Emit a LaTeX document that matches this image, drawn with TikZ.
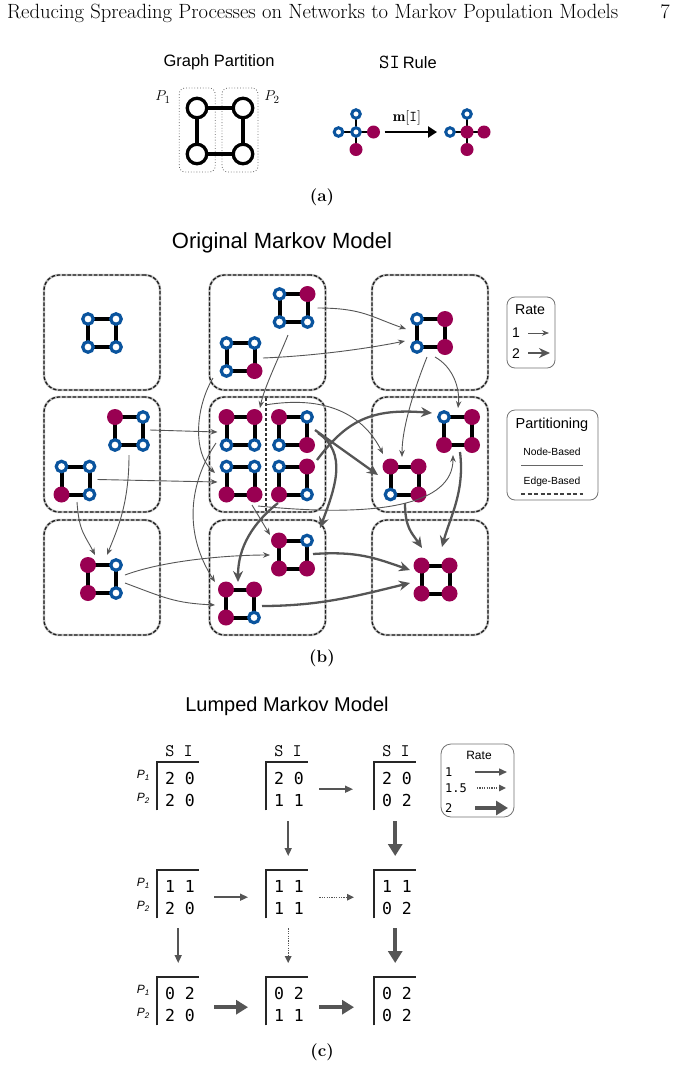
\documentclass[tikz,border=0pt]{standalone}
\usepackage{fontspec}
\newfontfamily\sfont{Liberation Sans}
\newfontfamily\dmono{DejaVu Sans Mono}
\usetikzlibrary{arrows.meta,calc}
\definecolor{sblue}{RGB}{10,84,158}
\definecolor{imag}{RGB}{153,0,82}
\definecolor{arrg}{RGB}{85,85,85}
\pgfdeclarelayer{boxes}
\pgfdeclarelayer{edges}
\pgfsetlayers{boxes,edges,main}
% graph of four nodes: name, x, y, TL, TR, BL, BR
\newcommand\gsq[7]{%
  \node[grp] (#1) at (#2,#3) {};
  \node[#4] (#1tl) at ($(#1)+(-14,-14)$) {};
  \node[#5] (#1tr) at ($(#1)+(14,-14)$) {};
  \node[#6] (#1bl) at ($(#1)+(-14,14)$) {};
  \node[#7] (#1br) at ($(#1)+(14,14)$) {};
  \begin{pgfonlayer}{edges}
    \draw[gedge] (#1tl.center) -- (#1tr.center) -- (#1br.center) -- (#1bl.center) -- cycle;
  \end{pgfonlayer}}
% lumped matrix: name, x, y, row1, row2
\newcommand\lmat[5]{%
  \node[mat] (#1) at (#2,#3) {};
  \draw[mline] (#1.south west) |- (#1.north east);
  \node[dig] (#1a) at ($(#1.north west)+(23,16)$) {#4};
  \node[dig] (#1b) at ($(#1.north west)+(23,38)$) {#5};}
\begin{document}
\begin{tikzpicture}[x=1pt,y=-1pt,
  sus/.style={circle,draw=sblue,fill=white,line width=3.2pt,minimum size=10.5pt,inner sep=0pt},
  inf/.style={circle,fill=imag,minimum size=16pt,inner sep=0pt},
  grp/.style={rectangle,minimum width=48pt,minimum height=48pt,inner sep=0pt},
  gedge/.style={line width=4pt,black},
  mbox/.style={rectangle,rounded corners=15pt,minimum width=116pt,minimum height=115pt,inner sep=0pt,
    draw=black!88,line width=1.3pt,dash pattern=on 3.5pt off 1.8pt,preaction={draw=black!25,line width=2.4pt,solid}},
  tarr/.style={draw=arrg,line width=0.9pt,-{Stealth[length=7pt,width=5.5pt]}},
  karr/.style={draw=arrg,line width=2.3pt,-{Stealth[length=11pt,width=10pt]}},
  lbox/.style={rectangle,rounded corners=8pt,draw=black!55,line width=0.8pt,inner sep=0pt},
  sf/.style={font=\sfont\fontsize{#1}{#1}\selectfont},
  mat/.style={rectangle,minimum width=42pt,minimum height=48pt,inner sep=0pt,anchor=north west},
  mline/.style={draw=black!85,line width=1.3pt},
  dig/.style={font=\dmono\fontsize{16.5}{18}\selectfont,inner sep=0pt},
  lth/.style={draw=arrg,line width=1.5pt,-{Triangle[length=8pt,width=7pt]}},
  ldot/.style={draw=arrg,line width=1.4pt,dash pattern=on 1.2pt off 1.2pt,-{Triangle[length=7pt,width=6.5pt]}},
  lthk/.style={draw=arrg,line width=4.5pt,-{Triangle[length=12pt,width=14pt]}},
  gp/.style={circle,draw=black,fill=white,line width=3.3pt,minimum size=19.5pt,inner sep=0pt},
  ssus/.style={circle,draw=sblue,fill=white,line width=3pt,minimum size=8.5pt,inner sep=0pt},
  sinf/.style={circle,fill=imag,minimum size=13pt,inner sep=0pt},
  pbox/.style={rectangle,rounded corners=6pt,draw=black!60,dotted,line width=0.8pt,minimum width=36pt,minimum height=84pt,inner sep=0pt},
  siarr/.style={draw=black,line width=2.8pt,-{Triangle[length=9pt,width=11pt]}},
  capt/.style={font=\bfseries\fontsize{17}{20}\selectfont}
]
\useasboundingbox (0,0) rectangle (675,1088);
\begin{pgfonlayer}{boxes}
\fill[white] (0,0) rectangle (675,1088);
\end{pgfonlayer}

% header
\node[anchor=base west,font=\fontsize{20.6}{24}\selectfont,inner sep=0pt] (hdr) at (7,18) {Reducing Spreading Processes on Networks to Markov Population Models};
\node[anchor=base east,font=\fontsize{20.6}{24}\selectfont,inner sep=0pt] (pgno) at (670,18) {7};

% ---------- (a) ----------
\node[sf=16.5] (tgp) at (219,62) {Graph Partition};
\node[sf=16.5] (tsi) at (408,62) {{\ttfamily\fontsize{20}{22}\selectfont SI}\hspace{3pt}Rule};
\begin{pgfonlayer}{boxes}
  \node[pbox] (pb1) at (197.2,130) {};
  \node[pbox] (pb2) at (240,130) {};
\end{pgfonlayer}
\node[gp] (a1) at (197,108) {};
\node[gp] (a2) at (243,108) {};
\node[gp] (a3) at (197,154) {};
\node[gp] (a4) at (243,154) {};
\begin{pgfonlayer}{edges}
  \draw[line width=4pt] (a1.center) -- (a2.center) -- (a4.center) -- (a3.center) -- cycle;
\end{pgfonlayer}
\node[font=\fontsize{15}{18}\selectfont] (lp1) at (163,97) {$P_1$};
\node[font=\fontsize{15}{18}\selectfont] (lp2) at (272,97) {$P_2$};

% SI rule stars
\node[ssus] (slc) at (356,132) {};
\node[ssus] (slt) at (356,114) {};
\node[ssus] (sll) at (338.5,132) {};
\node[sinf] (slr) at (373.5,132) {};
\node[sinf] (slb) at (356,149.5) {};
\node[sinf] (src) at (467,132) {};
\node[ssus] (srt) at (467,114) {};
\node[ssus] (srl) at (450,132) {};
\node[sinf] (srr) at (484,132) {};
\node[sinf] (srb) at (467,149.5) {};
\begin{pgfonlayer}{edges}
  \draw[line width=2pt] (slt.center) -- (slb.center) (sll.center) -- (slr.center);
  \draw[line width=2pt] (srt.center) -- (srb.center) (srl.center) -- (srr.center);
\end{pgfonlayer}
\draw[siarr] ($(slr)+(11,0)$) -- ($(srl)+(-13,0)$);
\node[font=\fontsize{15}{18}\selectfont] (mlab) at (407,118) {$\mathbf{m}[\mathtt{I}]$};
\node[capt] (capa) at (322,197) {(a)};

% ---------- (b) ----------
\node[sf=22] (tb) at (282,243) {Original Markov Model};
\begin{pgfonlayer}{boxes}
  \node[mbox] (b11) at (102,332.5) {};
  \node[mbox] (b12) at (267.5,332.5) {};
  \node[mbox] (b13) at (430,332.5) {};
  \node[mbox] (b21) at (102,454.5) {};
  \node[mbox] (b22) at (267.5,454.5) {};
  \node[mbox] (b23) at (430,454.5) {};
  \node[mbox] (b31) at (102,577.5) {};
  \node[mbox] (b32) at (267.5,577.5) {};
  \node[mbox] (b33) at (430,577.5) {};
  \draw[black!80,line width=1.3pt,dash pattern=on 3pt off 2pt] ($(b22.north)+(-1.5,2)$) -- ($(b22.south)+(-1.5,-2)$);
\end{pgfonlayer}

\gsq{gz}{102}{333}{sus}{sus}{sus}{sus}
\gsq{gA}{293.5}{308}{sus}{inf}{sus}{sus}
\gsq{gB}{240.5}{357}{sus}{sus}{sus}{inf}
\gsq{gC}{431}{333}{sus}{inf}{sus}{inf}
\gsq{gD}{129}{431}{inf}{sus}{sus}{sus}
\gsq{gE}{75.5}{480.5}{sus}{sus}{inf}{sus}
\gsq{gF}{240.5}{431}{inf}{inf}{sus}{sus}
\gsq{gG}{240.5}{480.5}{sus}{sus}{inf}{inf}
\gsq{gH}{293}{431}{inf}{sus}{sus}{inf}
\gsq{gI}{293}{480.5}{sus}{inf}{inf}{sus}
\gsq{gJ}{458}{431}{sus}{inf}{inf}{inf}
\gsq{gK}{404.5}{480.5}{inf}{inf}{sus}{inf}
\gsq{gL}{102}{579}{inf}{sus}{inf}{sus}
\gsq{gM}{293}{554.5}{inf}{sus}{inf}{inf}
\gsq{gN}{240}{603.5}{inf}{inf}{inf}{sus}
\gsq{gO}{435.5}{579.5}{inf}{inf}{inf}{inf}

% transitions
\draw[tarr] ($(gA)+(24,0)$) .. controls +(45,0) and +(-35,-12) .. ($(gC)+(-25,-4)$);
\draw[tarr] ($(gB)+(22.5,1)$) .. controls +(50,-2) and +(-40,8) .. ($(gC)+(-26,8)$);
\draw[tarr] ($(gA)+(-5.5,27)$) .. controls +(-8,20) and +(4,-20) .. ($(gF)+(19.5,-23)$);
\draw[tarr] ($(gB)+(-27.5,21)$) .. controls +(-18,30) and +(-22,-20) .. ($(gG)+(-25.5,-7.5)$);
\draw[tarr] ($(gD)+(21,-1)$) -- ($(gF)+(-23,1)$);
\draw[tarr] ($(gE)+(22,-1)$) -- ($(gG)+(-23,1.5)$);
\draw[tarr] ($(gD)+(0,24)$) .. controls +(0,50) and +(10,-25) .. ($(gL)+(5,-24)$);
\draw[tarr] ($(gE)+(1.5,21.5)$) .. controls +(2,30) and +(-10,-20) .. ($(gL)+(-7,-24)$);
\draw[tarr] ($(gF)+(-24.5,12)$) .. controls +(-30,45) and +(-29,-45) .. ($(gN)+(-25,-21.5)$);
\draw[tarr] ($(gF)+(24.5,-26)$) .. controls +(60,-10) and +(-20,-40) .. ($(gK)+(-21.5,-26.5)$);
\draw[tarr] ($(gG)+(11.5,24.5)$) -- ($(gM)+(-23,-19.5)$);
\draw[tarr] ($(gG)+(17.5,25.5)$) .. controls +(120,12) and +(0,50) .. ($(gJ)+(-5,24)$);
\draw[karr] ($(gH)+(22,-1)$) -- ($(gK)+(-26.5,-5.5)$);
\draw[karr] ($(gH)+(25,2)$) .. controls +(30,20) and +(15,-40) .. ($(gM)+(27,-26.5)$);
\draw[karr] ($(gI)+(24,-20.5)$) .. controls +(30,-40) and +(-60,-5) .. ($(gJ)+(-26,-18)$);
\draw[karr] ($(gI)+(-15,22.5)$) .. controls +(-25,20) and +(0,-35) .. ($(gN)+(-2,-21.5)$);
\draw[tarr] ($(gC)+(-4,24)$) .. controls +(-12,30) and +(0,-30) .. ($(gK)+(-2.5,-23.5)$);
\draw[tarr] ($(gC)+(4,24)$) .. controls +(18,10) and +(2,-20) .. ($(gJ)+(0,-23)$);
\draw[tarr] ($(gL)+(23,-4)$) .. controls +(40,-15) and +(-40,0) .. ($(gM)+(-23,0.5)$);
\draw[tarr] ($(gL)+(23,4)$) .. controls +(40,15) and +(-40,-2) .. ($(gN)+(-25,1.5)$);
\draw[karr] ($(gM)+(20,-0.5)$) .. controls +(45,-3) and +(-35,-12) .. ($(gO)+(-25.5,-9.5)$);
\draw[karr] ($(gN)+(22,2.5)$) .. controls +(60,0) and +(-50,12) .. ($(gO)+(-25.5,3.5)$);
\draw[karr] ($(gJ)+(2,21)$) .. controls +(5,40) and +(8,-30) .. ($(gO)+(6.5,-32.5)$);
\draw[karr] ($(gK)+(0.5,22.5)$) .. controls +(0,25) and +(-10,-15) .. ($(gO)+(-13.5,-31.5)$);

% legends (b)
\node[lbox,minimum width=48pt,minimum height=71pt] (rlegb) at (531,332.5) {};
\node[sf=14.2] (rlbt) at (530,310) {Rate};
\node[sf=14] (rlb1) at (516,333) {1};
\node[sf=14] (rlb2) at (516,354) {2};
\coordinate (rb1s) at (528,333); \coordinate (rb1e) at (549,333);
\coordinate (rb2s) at (528,353); \coordinate (rb2e) at (550,353);
\draw[tarr] (rb1s) -- (rb1e);
\draw[karr] (rb2s) -- (rb2e);

\node[lbox,minimum width=91pt,minimum height=90pt] (plegb) at (552.5,455) {};
\node[sf=14.5] (plt) at (552,425) {Partitioning};
\node[sf=10.3] (pln) at (552,452) {Node-Based};
\node[sf=10.3] (ple) at (552,482) {Edge-Based};
\coordinate (pn1) at (521,465); \coordinate (pn2) at (583,465);
\coordinate (pe1) at (521,494); \coordinate (pe2) at (583,494);
\draw[black!60,line width=1pt] (pn1) -- (pn2);
\draw[black!75,line width=2pt,dash pattern=on 4pt off 2.5pt] (pe1) -- (pe2);
\node[capt] (capb) at (322,658) {(b)};

% ---------- (c) ----------
\node[sf=20] (tc) at (287,706) {Lumped Markov Model};
\lmat{mA1}{157}{762}{2 0}{2 0}
\lmat{mB1}{266}{762}{2 0}{1 1}
\lmat{mC1}{374}{762}{2 0}{0 2}
\lmat{mA2}{157}{870}{1 1}{2 0}
\lmat{mB2}{266}{870}{1 1}{1 1}
\lmat{mC2}{374}{870}{1 1}{0 2}
\lmat{mA3}{157}{977}{0 2}{2 0}
\lmat{mB3}{266}{977}{0 2}{1 1}
\lmat{mC3}{374}{977}{0 2}{0 2}
\foreach \m in {mA1,mB1,mC1}{
  \node[font=\ttfamily\fontsize{17.6}{20}\selectfont] (\m h) at ($(\m.north west)+(22,-11)$) {S I};}
\foreach \m in {mA1,mA2,mA3}{
  \node[anchor=east,font=\sfont\itshape\fontsize{12}{14}\selectfont,inner sep=0pt] (\m p) at ($(\m.north west)+(-7,13)$) {P\textsubscript{1}};
  \node[anchor=east,font=\sfont\itshape\fontsize{12}{14}\selectfont,inner sep=0pt] (\m q) at ($(\m.north west)+(-7,36)$) {P\textsubscript{2}};}

\draw[lth] ($(mB1.east)+(11,3)$) -- ($(mC1.west)+(-21,3)$);
\draw[lth] ($(mB1.south)+(1,11)$) -- ($(mB2.north)+(1,-14)$);
\draw[lthk] ($(mC1.south)+(0,11)$) -- ($(mC2.north)+(0,-14)$);
\draw[lth] ($(mA2.east)+(15,3)$) -- ($(mB2.west)+(-18,3)$);
\draw[ldot] ($(mB2.east)+(11,3)$) -- ($(mC2.west)+(-20,3)$);
\draw[lth] ($(mA2.south)+(0,10)$) -- ($(mA3.north)+(0,-14)$);
\draw[ldot] ($(mB2.south)+(1,10)$) -- ($(mB3.north)+(1,-14)$);
\draw[lthk] ($(mC2.south)+(0,10)$) -- ($(mC3.north)+(0,-14)$);
\draw[lthk] ($(mA3.east)+(15,6)$) -- ($(mB3.west)+(-18,6)$);
\draw[lthk] ($(mB3.east)+(11,6)$) -- ($(mC3.west)+(-20,6)$);

% legend (c)
\node[lbox,rounded corners=10pt,minimum width=73pt,minimum height=73pt] (rlegc) at (477.5,780.5) {};
\node[sf=12] (rlct) at (479,755) {Rate};
\node[anchor=west,font=\dmono\fontsize{12}{14}\selectfont,inner sep=0pt] (rlc1) at (445,772) {1};
\node[anchor=west,font=\dmono\fontsize{12}{14}\selectfont,inner sep=0pt] (rlc2) at (445,788) {1.5};
\node[anchor=west,font=\dmono\fontsize{12}{14}\selectfont,inner sep=0pt] (rlc3) at (445,808) {2};
\coordinate (rc1s) at (475,772); \coordinate (rc1e) at (507,772);
\coordinate (rc2s) at (477,788); \coordinate (rc2e) at (506,788);
\coordinate (rc3s) at (475,808); \coordinate (rc3e) at (508,808);
\draw[lth] (rc1s) -- (rc1e);
\draw[ldot] (rc2s) -- (rc2e);
\draw[lthk] (rc3s) -- (rc3e);
\node[capt] (capc) at (322,1052) {(c)};
\end{tikzpicture}
\end{document}
